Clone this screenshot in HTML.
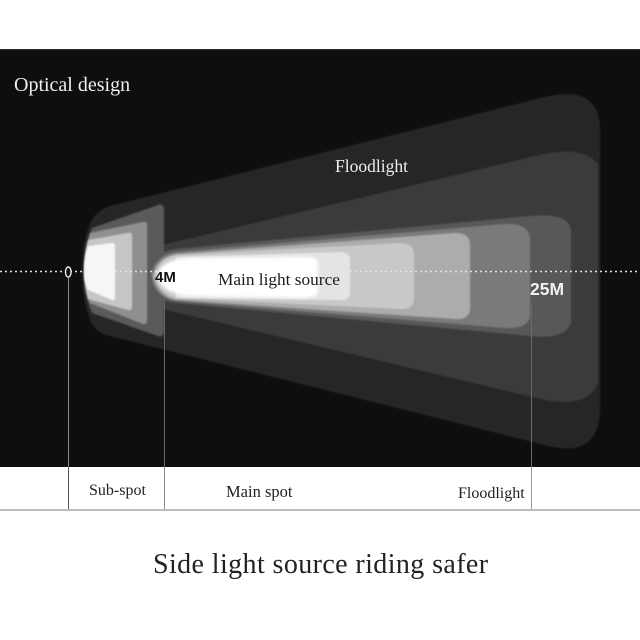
<!DOCTYPE html>
<html><head><meta charset="utf-8"><style>
html,body{margin:0;padding:0;background:#fff}
svg{display:block}
text{font-family:"Liberation Serif",serif}
.s{font-family:"Liberation Sans",sans-serif;font-weight:bold}
</style></head><body>
<svg width="640" height="640" viewBox="0 0 640 640" xmlns="http://www.w3.org/2000/svg">
<defs>
<filter id="b1" x="-5%" y="-5%" width="110%" height="110%"><feGaussianBlur stdDeviation="0.8"/></filter>
<filter id="b2" x="-10%" y="-10%" width="120%" height="120%"><feGaussianBlur stdDeviation="1.6"/></filter>
</defs>
<rect width="640" height="640" fill="#fff"/>
<rect x="0" y="49" width="640" height="418" fill="#0e0e0e"/>
<rect x="0" y="49" width="640" height="1" fill="#333"/>

<g filter="url(#b1)">
<!-- outer flood with rounded left lobe -->
<path d="M545 97 Q600 84 600 130 L600 408 Q600 460 545 445 L110 336 Q96 333 91 322 Q82 300 82 272 Q82 240 92 220 Q97 211 110 206 Z" fill="#252525"/>
<path d="M150 248 L540 155 Q585 145 598 165 L598 382 Q590 408 545 400 L150 306 Z" fill="#3b3b3b"/>
</g>

<!-- sub-spot lobes -->
<g filter="url(#b1)">
<path d="M92 228 L158 205 Q164 203 164 210 L164 331 Q164 338 158 336 L92 313 Q84 295 84 272 Q84 248 92 228 Z" fill="#5a5a5a"/>
<path d="M90 233 L143 222 Q147 221 147 225 L147 320 Q147 325 143 324 L90 303 Q84 290 84 272 Q84 250 90 233 Z" fill="#8f8f8f"/>
<path d="M88 240 L128 233 Q132 232 132 236 L132 306 Q132 311 128 310 L88 299 Q84 285 84 272 Q84 254 88 240 Z" fill="#c6c6c6"/>
</g>

<!-- main beam bands with bullet tips -->
<g filter="url(#b1)">
<path d="M149 276 C151 260 160 251 176 249 L530 216 Q571 212 571 232 L571 322 Q566 340 530 336 L176 303 C160 301 151 292 149 276 Z" fill="#585858"/>
<path d="M151 276 C153 262 162 254 176 252 L505 224 Q530 223 530 240 L530 314 Q530 329 505 328 L176 301 C162 299 153 290 151 276 Z" fill="#7a7a7a"/>
<path d="M153 276 C155 264 164 256 176 254 L455 233 Q470 233 470 245 L470 308 Q470 320 455 319 L176 300 C164 298 155 288 153 276 Z" fill="#acacac"/>
<path d="M155 276 C157 265 165 257 176 255 L400 243 Q414 243 414 254 L414 298 Q414 310 400 309 L176 298 C165 296 157 287 155 276 Z" fill="#c8c8c8"/>
</g>

<!-- dotted axis -->
<line x1="0" y1="271.5" x2="640" y2="271.5" stroke="#e2e2e2" stroke-width="1.4" stroke-dasharray="2 3"/>

<!-- top layers hiding the axis -->
<g filter="url(#b1)">
<path d="M88 246 L112 243 Q115 243 115 246 L115 298 Q115 301 112 300 L88 290 Q84 282 84 272 Q84 257 88 246 Z" fill="#f6f6f6"/>
<path d="M176 257 L340 252 Q350 252 350 260 L350 292 Q350 301 340 300 L176 298 Z" fill="#e4e4e4"/>
</g>
<path d="M157 276 C159 266 168 259 190 258 L300 257 Q318 256 318 263 L318 292 Q318 298 300 298 L190 296 C168 294 159 286 157 276 Z" fill="#fff" filter="url(#b2)"/>

<!-- zero marker -->
<ellipse cx="68.3" cy="272" rx="2.8" ry="5" fill="#0e0e0e" stroke="#eee" stroke-width="1.4"/>

<!-- vertical lines on dark -->
<line x1="68.5" y1="278" x2="68.5" y2="467" stroke="#8a8a8a" stroke-width="1"/>
<line x1="164.5" y1="300" x2="164.5" y2="467" stroke="#666" stroke-width="1"/>
<line x1="531.5" y1="302" x2="531.5" y2="467" stroke="#6a6a6a" stroke-width="1"/>
<!-- vertical lines on white -->
<line x1="68.5" y1="467" x2="68.5" y2="510" stroke="#555" stroke-width="1"/>
<line x1="164.5" y1="467" x2="164.5" y2="510" stroke="#888" stroke-width="1"/>
<line x1="531.5" y1="467" x2="531.5" y2="510" stroke="#999" stroke-width="1"/>
<rect x="0" y="509" width="640" height="2" fill="#bcbcbc"/>

<text x="14" y="91" font-size="20" fill="#f0f0f0">Optical design</text>
<text x="335" y="172" font-size="17.5" fill="#eee">Floodlight</text>
<text x="218" y="285" font-size="17.3" fill="#1c1c1c">Main light source</text>
<text class="s" x="155" y="282" font-size="15" fill="#111">4M</text>
<text class="s" x="530" y="295" font-size="17.5" fill="#f2f2f2">25M</text>
<text x="89" y="495" font-size="16" fill="#222">Sub-spot</text>
<text x="226" y="497" font-size="16.5" fill="#222">Main spot</text>
<text x="458" y="498" font-size="16" fill="#222">Floodlight</text>
<text x="153" y="573" font-size="28" letter-spacing="0.4" fill="#222">Side light source riding safer</text>
</svg>
</body></html>
